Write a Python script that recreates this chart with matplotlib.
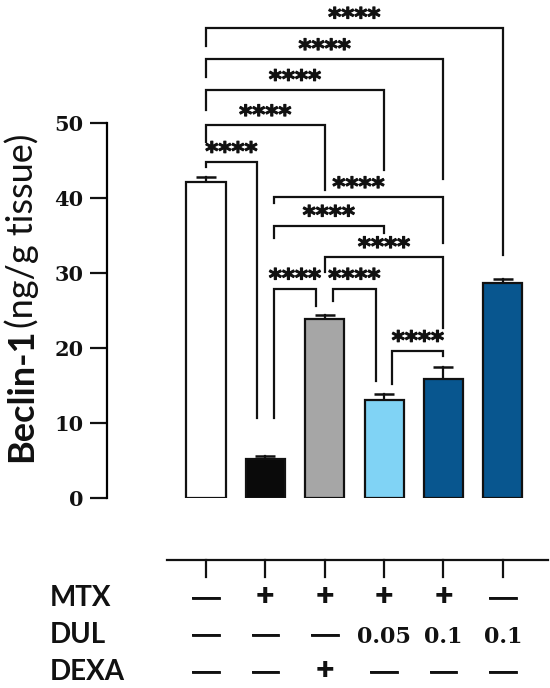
import matplotlib
matplotlib.use('Agg')
from matplotlib import pyplot as plt
from matplotlib import patheffects

# bar data (mean and upper error)
groups = ['Control', 'MTX', 'MTX+DEXA', 'MTX+DUL 0.05', 'MTX+DUL 0.1', 'DUL 0.1']
means = [42.1, 5.2, 23.9, 13.1, 15.9, 28.7]
errs = [0.7, 0.4, 0.5, 0.8, 1.6, 0.5]
colors = ['#ffffff', '#0a0a0a', '#a6a6a6', '#80d3f5', '#08568f', '#08568f']

# treatment table under the bars
row_names = ['MTX', 'DUL', 'DEXA']
mtx = ['—', '+', '+', '+', '+', '—']
dul = ['—', '—', '—', '0.05', '0.1', '0.1']
dexa = ['—', '—', '+', '—', '—', '—']

# significance brackets:
# (left bar, right bar, left shift, right shift, bracket height, left leg end, right leg end)
brackets = [
    (0, 5, 0, 0, 62.7, 60.3, 32.4),
    (0, 4, 0, 0, 58.5, 56.1, 42.5),
    (0, 3, 0, 0, 54.4, 51.7, 43.7),
    (0, 2, 0, 0, 49.7, 47.5, 41.1),
    (0, 1, 0, -0.14, 44.8, 44.1, 10.7),
    (1, 4, 0.14, 0, 40.1, 39.3, 34.0),
    (1, 3, 0.14, 0, 36.3, 34.7, 35.3),
    (2, 4, 0, 0, 32.1, 30.1, 22.7),
    (1, 2, 0.14, -0.14, 27.9, 10.7, 25.6),
    (2, 3, 0.14, -0.14, 27.9, 26.3, 15.6),
    (3, 4, 0.14, 0, 19.6, 15.2, 18.9),
]
stars = '****'

ink = '#111111'
sans = ['Lato', 'DejaVu Sans']

fig = plt.figure(figsize=(5.5, 6.88), dpi=100)
ax = fig.add_axes([107 / 550, 1 - 498 / 688, 441 / 550, 495 / 688])

x = list(range(len(groups)))
ax.bar(x, means, width=0.66, color=colors, edgecolor=ink, linewidth=1.6, zorder=2)
# upper error bars only
for i, m, e in zip(x, means, errs):
    ax.plot([i, i], [m, m + e], color=ink, lw=1.6, zorder=1)
    ax.plot(i, m + e, marker='_', markersize=15, mew=1.8, color=ink, zorder=1)

thick = [patheffects.withStroke(linewidth=0.8, foreground=ink)]
for l, r, dl, dr, h, yl, yr in brackets:
    x1, x2 = l + dl, r + dr
    ax.plot([x1, x1, x2, x2], [yl, h, h, yr], color=ink, lw=1.6,
            solid_joinstyle='miter', clip_on=False)
    ax.text((x1 + x2) / 2, h + 0.3, stars, ha='center', va='baseline', fontsize=18,
            fontweight='bold', color=ink, family='DejaVu Sans', path_effects=thick)

ax.set_xlim(-1.667, 5.76)
ax.set_ylim(0, 66)
for s in ['top', 'right', 'bottom']:
    ax.spines[s].set_visible(False)
ax.spines['left'].set_bounds(0, 50)
ax.spines['left'].set_linewidth(1.6)
ax.set_yticks([0, 10, 20, 30, 40, 50])
ax.set_xticks([])
ax.tick_params(axis='y', direction='out', length=12, width=1.6, pad=5, colors=ink)
for t in ax.get_yticklabels():
    t.set_fontfamily('DejaVu Serif')
    t.set_fontweight('bold')
    t.set_fontsize(15)

# table axis with ticks
ax.plot([-0.657, 5.76], [-8.27, -8.27], color=ink, lw=1.6, clip_on=False)
for i in x:
    ax.plot([i, i], [-8.27, -10.53], color=ink, lw=1.6, clip_on=False)

row_y = [-14.4, -19.33, -24.27]
for name, vals, y in zip(row_names, [mtx, dul, dexa], row_y):
    ax.text(-2.626, y, name, ha='left', va='baseline', fontsize=20,
            fontweight='bold', family=sans, color=ink, clip_on=False)
    for i, v in zip(x, vals):
        if v[0].isdigit():
            ax.text(i, y, v, ha='center', va='baseline', fontsize=16, family='DejaVu Serif',
                    fontweight='bold', color=ink, clip_on=False)
        elif v == '+':
            ax.text(i, y, v, ha='center', va='baseline', fontsize=23, family=sans,
                    fontweight='heavy', color=ink, clip_on=False)
        else:
            ax.text(i, y, v, ha='center', va='baseline', fontsize=22, family='DejaVu Sans',
                    color=ink, clip_on=False,
                    path_effects=[patheffects.withStroke(linewidth=0.6, foreground=ink)])

# y label: bold name followed by regular unit
t1 = fig.text(22 / 550, 1 - 462 / 688, 'Beclin-1', rotation=90, ha='center', va='bottom',
              fontsize=26, fontweight='bold', family=sans, color=ink)
fig.canvas.draw()
bb = t1.get_window_extent()
fig.text(22 / 550, (bb.y1 + 1) / fig.bbox.height, '(ng/g tissue)', rotation=90, ha='center',
         va='bottom', fontsize=26, family=sans, color=ink)

fig.savefig('out.png', dpi=100)
